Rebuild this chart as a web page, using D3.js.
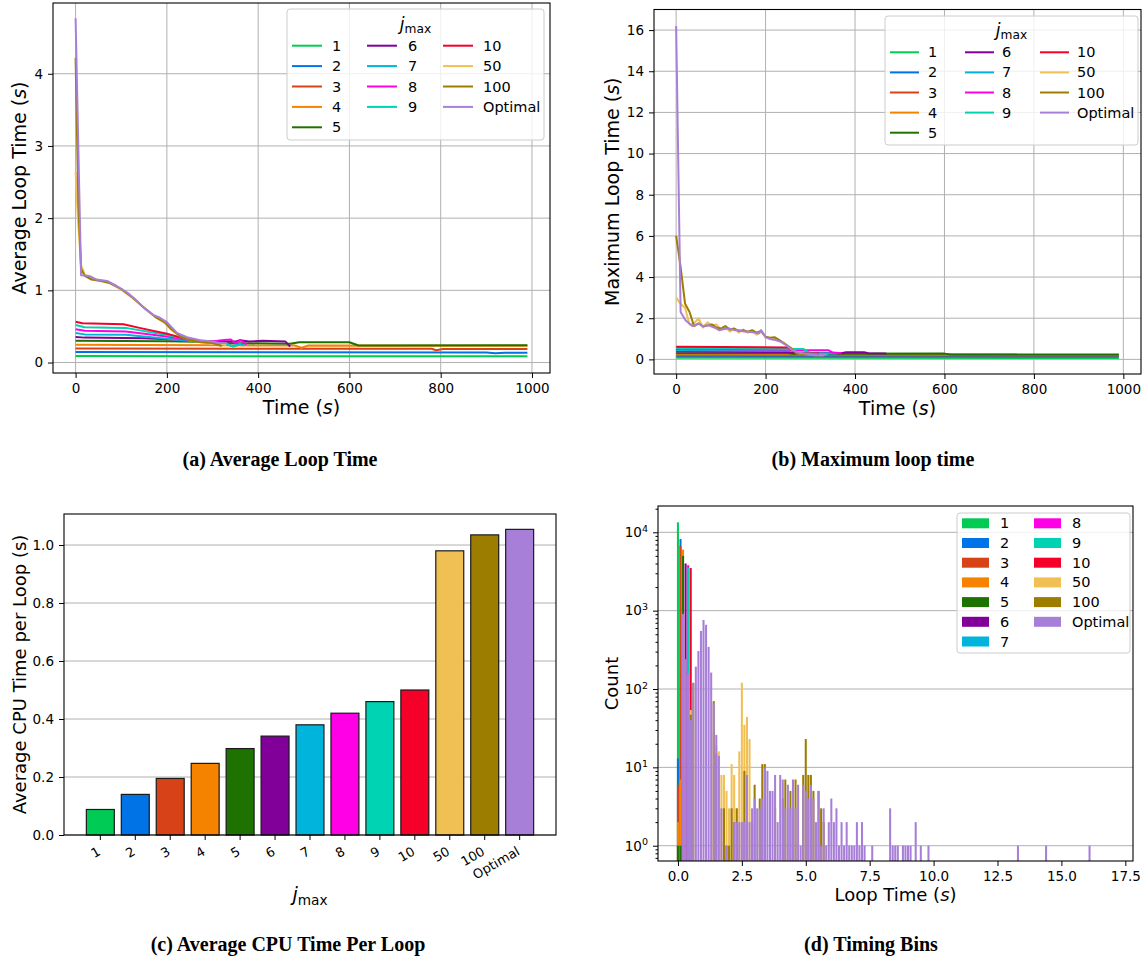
<!DOCTYPE html>
<html>
<head>
<meta charset="utf-8">
<script src="https://cdn.jsdelivr.net/npm/d3@7"></script>
<style>
  body { margin: 0; background: #fff; }
  svg { display: block; }
  text { font-family: "DejaVu Sans", sans-serif; fill: #000; }
</style>
</head>
<body>
<svg width="1148" height="964"></svg>
<script>
// ---- data ----
const series_names = ["1", "2", "3", "4", "5", "6", "7", "8", "9", "10", "50", "100", "Optimal"];
const series_colors = ["#00cc55", "#0073e6", "#d84218", "#f58300", "#1e7300", "#800099",
  "#00b4dc", "#ff00e6", "#00d2b4", "#f50028", "#f0c055", "#9c7d00", "#a87fd8"];

// (a) average loop time, [time, seconds]
const avg_1 = [[0, 0.09], [300, 0.088], [990, 0.088]];
const avg_2 = [[0, 0.145], [400, 0.142], [900, 0.138], [920, 0.13], [940, 0.136], [990, 0.135]];
const avg_3 = [[0, 0.195], [500, 0.19], [780, 0.19], [790, 0.17], [805, 0.188], [990, 0.188]];
const avg_4 = [[0, 0.245], [300, 0.24], [480, 0.235], [495, 0.205], [510, 0.235], [990, 0.232]];
const avg_5 = [[0, 0.3], [200, 0.295], [300, 0.285], [330, 0.27], [470, 0.26], [490, 0.28], [600, 0.28], [620, 0.235], [990, 0.24]];
const avg_6 = [[0, 0.355], [20, 0.345], [150, 0.338], [230, 0.315], [300, 0.29], [350, 0.29], [360, 0.31], [380, 0.29], [410, 0.3], [460, 0.29], [470, 0.22]];
const avg_7 = [[0, 0.41], [20, 0.39], [110, 0.385], [200, 0.33], [250, 0.3], [300, 0.28], [330, 0.25], [345, 0.23], [360, 0.26], [370, 0.24]];
const avg_8 = [[0, 0.46], [20, 0.44], [110, 0.43], [200, 0.36], [260, 0.3], [300, 0.29], [320, 0.31], [340, 0.32], [350, 0.27], [362, 0.31], [375, 0.25]];
const avg_9 = [[0, 0.52], [20, 0.49], [110, 0.48], [200, 0.38], [250, 0.32], [300, 0.275], [330, 0.26], [345, 0.22], [355, 0.24]];
const avg_10 = [[0, 0.565], [15, 0.545], [105, 0.53], [140, 0.48], [200, 0.4], [240, 0.33], [280, 0.29], [320, 0.27]];
const avg_50 = [[0, 2.64], [5, 2.0], [12, 1.35], [20, 1.22], [35, 1.16], [55, 1.14], [75, 1.1], [100, 1.01], [125, 0.89], [150, 0.76], [175, 0.63], [195, 0.55], [210, 0.45], [230, 0.36], [250, 0.31], [275, 0.28], [300, 0.26], [315, 0.27], [330, 0.24]];
const avg_100 = [[0, 4.22], [6, 2.2], [12, 1.3], [20, 1.2], [35, 1.15], [55, 1.13], [75, 1.1], [100, 1.02], [125, 0.9], [150, 0.76], [175, 0.63], [195, 0.56], [210, 0.46], [230, 0.36], [250, 0.31], [275, 0.28], [300, 0.27], [320, 0.23]];
const avg_opt = [[0, 4.77], [12, 1.21], [30, 1.2], [45, 1.15], [69, 1.13], [90, 1.06], [113, 0.97], [130, 0.88], [149, 0.76], [170, 0.66], [185, 0.62], [200, 0.56], [222, 0.41], [244, 0.35], [273, 0.31], [300, 0.29], [315, 0.27], [331, 0.27]];

// (b) maximum loop time, [time, seconds]
const max_1 = [[0, 0.08], [990, 0.07]];
const max_2 = [[0, 0.15], [990, 0.14]];
const max_3 = [[0, 0.2], [990, 0.19]];
const max_4 = [[0, 0.25], [990, 0.24]];
const max_5 = [[0, 0.3], [250, 0.3], [260, 0.27], [600, 0.28], [615, 0.24], [990, 0.24]];
const max_6 = [[0, 0.38], [250, 0.36], [270, 0.3], [370, 0.3], [380, 0.35], [420, 0.35], [430, 0.3], [470, 0.28]];
const max_7 = [[0, 0.44], [250, 0.42], [270, 0.45], [290, 0.42], [300, 0.3], [360, 0.28]];
const max_8 = [[0, 0.5], [250, 0.48], [270, 0.45], [340, 0.45], [350, 0.33], [370, 0.3]];
const max_9 = [[0, 0.55], [250, 0.52], [265, 0.5], [285, 0.5], [300, 0.3], [340, 0.25]];
const max_10 = [[0, 0.62], [100, 0.6], [250, 0.58], [270, 0.3], [320, 0.28]];
const max_50 = [[0, 3.0], [10, 2.7], [20, 2.5], [30, 1.7], [40, 1.75], [50, 2.0], [60, 1.55], [70, 1.8], [80, 1.65], [90, 1.7], [100, 1.45], [110, 1.6], [120, 1.35], [130, 1.5], [140, 1.3], [150, 1.45], [160, 1.3], [170, 1.4], [180, 1.2], [190, 1.35], [200, 1.1], [210, 1.0], [220, 1.05], [230, 0.9], [240, 0.8], [250, 0.65], [260, 0.5], [270, 0.3], [290, 0.25], [310, 0.2], [330, 0.2]];
const max_100 = [[0, 6.0], [10, 4.5], [20, 2.7], [30, 2.3], [40, 1.62], [50, 1.75], [60, 1.6], [70, 1.65], [80, 1.7], [90, 1.55], [100, 1.5], [110, 1.62], [120, 1.45], [130, 1.5], [140, 1.38], [150, 1.42], [160, 1.35], [170, 1.42], [180, 1.3], [190, 1.38], [200, 1.1], [210, 1.05], [220, 1.08], [230, 0.95], [240, 0.8], [250, 0.65], [260, 0.5], [270, 0.3], [290, 0.25], [320, 0.22]];
const max_opt = [[0, 16.2], [10, 2.3], [21, 1.9], [36, 1.62], [51, 1.74], [60, 1.62], [73, 1.66], [85, 1.55], [96, 1.42], [108, 1.48], [118, 1.5], [130, 1.42], [140, 1.42], [152, 1.35], [163, 1.34], [175, 1.3], [185, 1.26], [190, 1.42], [200, 1.07], [212, 0.98], [222, 0.94], [235, 0.85], [245, 0.7], [260, 0.45], [275, 0.32], [297, 0.26], [335, 0.21]];

// (c) average CPU time per loop
const cpu_time = [0.088, 0.14, 0.195, 0.247, 0.298, 0.341, 0.38, 0.42, 0.46, 0.5, 0.98, 1.035, 1.054];

// (d) timing bins, [bin centre (s), count]
const hist_1 = [[0.0, 13400]];
const hist_2 = [[0.0, 13], [0.1, 8200]];
const hist_3 = [[0.0, 6], [0.1, 6700]];
const hist_4 = [[0.0, 2], [0.1, 7], [0.2, 6000]];
const hist_5 = [[0.0, 1], [0.1, 1], [0.2, 5000]];
const hist_6 = [[0.3, 4000]];
const hist_7 = [[0.4, 3300]];
const hist_8 = [[0.2, 900], [0.4, 3800]];
const hist_9 = [[0.4, 3500]];
const hist_10 = [[0.5, 3500]];
const hist_50 = [[0.5, 54], [1.4, 28], [1.5, 19], [1.6, 16], [1.7, 8], [1.8, 8], [1.9, 5], [2.0, 3], [2.1, 11], [2.2, 8], [2.3, 3], [2.4, 16], [2.5, 120], [2.6, 35], [2.7, 44], [2.8, 23], [2.9, 2]];
const hist_100 = [[0.5, 47], [0.6, 120], [1.4, 70], [1.5, 15], [1.8, 3], [1.9, 1], [2.0, 1], [2.1, 3], [2.2, 2], [2.3, 3], [2.6, 9], [2.9, 2], [3.0, 6], [3.2, 4], [3.3, 11], [3.4, 11], [3.8, 3], [4.1, 4], [4.2, 7], [4.4, 5], [4.6, 7], [4.9, 8], [5.0, 23], [5.1, 8], [5.2, 8], [5.3, 5], [5.5, 5], [5.6, 3], [5.7, 2]];
const hist_opt = [[0.2, 910], [0.3, 240], [0.4, 158], [0.5, 40], [0.6, 118], [0.7, 193], [0.8, 305], [0.9, 550], [1.0, 760], [1.1, 660], [1.2, 345], [1.3, 162], [1.4, 66], [1.5, 26], [1.6, 14], [1.7, 3], [1.9, 1], [2.2, 2], [2.3, 2], [2.4, 2], [2.5, 2], [2.6, 2], [2.7, 8], [2.8, 2], [2.9, 3], [3.0, 4], [3.1, 3], [3.2, 3], [3.3, 4], [3.4, 10], [3.5, 9], [3.6, 5], [3.7, 5], [3.8, 8], [3.9, 2], [4.0, 8], [4.1, 7], [4.2, 3], [4.3, 6], [4.4, 3], [4.5, 7], [4.6, 3], [4.7, 6], [4.8, 1], [4.9, 6], [5.0, 5], [5.1, 4], [5.2, 6], [5.3, 4], [5.4, 2], [5.5, 5], [5.6, 1], [5.7, 3], [5.8, 1], [5.9, 2], [6.0, 4], [6.1, 2], [6.2, 3], [6.3, 1], [6.4, 2], [6.5, 1], [6.6, 2], [6.7, 1], [6.8, 1], [6.9, 1], [7.0, 2], [7.1, 1], [7.2, 2], [7.3, 1], [7.6, 1], [8.3, 3], [8.4, 1], [8.5, 1], [8.6, 1], [8.8, 1], [8.9, 1], [9.0, 1], [9.1, 1], [9.3, 2], [9.5, 1], [9.8, 1], [13.3, 1], [14.4, 1], [16.1, 1]];

const avg_series = [avg_1, avg_2, avg_3, avg_4, avg_5, avg_6, avg_7, avg_8, avg_9, avg_10, avg_50, avg_100, avg_opt];
const max_series = [max_1, max_2, max_3, max_4, max_5, max_6, max_7, max_8, max_9, max_10, max_50, max_100, max_opt];
const hist_series = [hist_1, hist_2, hist_3, hist_4, hist_5, hist_6, hist_7, hist_8, hist_9, hist_10, hist_50, hist_100, hist_opt];

// ---- style ----
const tick_size = 13.5;
const label_size = 19;
const legend_size = 14.5;
const grid_color = "#b0b0b0";

let svg = d3.select("svg");

function StyleAxis(g) {
  g.select(".domain").remove();
  g.selectAll(".tick line").attr("stroke", "black").attr("stroke-width", 1);
  g.selectAll(".tick text")
    .attr("fill", "black")
    .style("font-family", '"DejaVu Sans", sans-serif')
    .style("font-size", tick_size + "px");
}

function DrawGrid(g, x, y, box, xticks, yticks) {
  if (xticks) {
    g.selectAll(null).data(xticks).enter().append("line")
      .attr("x1", d => x(d)).attr("x2", d => x(d))
      .attr("y1", box.top).attr("y2", box.bottom)
      .attr("stroke", grid_color).attr("stroke-width", 1);
  }
  if (yticks) {
    g.selectAll(null).data(yticks).enter().append("line")
      .attr("x1", box.left).attr("x2", box.right)
      .attr("y1", d => y(d)).attr("y2", d => y(d))
      .attr("stroke", grid_color).attr("stroke-width", 1);
  }
}

function DrawFrame(g, box) {
  g.append("rect")
    .attr("x", box.left).attr("y", box.top)
    .attr("width", box.right - box.left).attr("height", box.bottom - box.top)
    .attr("fill", "none").attr("stroke", "black").attr("stroke-width", 1.1);
}

function JmaxText(sel, size) {
  sel.append("tspan").style("font-style", "italic").text("j");
  sel.append("tspan").attr("dy", "0.28em").style("font-size", (size * 0.72) + "px").text("max");
}

function DrawLineLegend(g, box, title_y, cols, row_y, row_gap) {
  g.append("rect")
    .attr("x", box.left).attr("y", box.top)
    .attr("width", box.right - box.left).attr("height", box.bottom - box.top)
    .attr("rx", 3).attr("fill", "white").attr("fill-opacity", 0.8)
    .attr("stroke", "#cccccc").attr("stroke-width", 1);
  let title = g.append("text")
    .attr("x", (box.left + box.right) / 2).attr("y", title_y)
    .attr("text-anchor", "middle")
    .style("font-size", "17px");
  JmaxText(title, 17);
  const per_col = [5, 4, 4];
  let k = 0;
  per_col.forEach((n, c) => {
    for (let r = 0; r < n; r++, k++) {
      const yy = row_y + r * row_gap;
      g.append("line")
        .attr("x1", cols[c][0]).attr("x2", cols[c][1])
        .attr("y1", yy).attr("y2", yy)
        .attr("stroke", series_colors[k]).attr("stroke-width", 2);
      g.append("text")
        .attr("x", cols[c][2]).attr("y", yy + 5)
        .style("font-size", legend_size + "px")
        .text(series_names[k]);
    }
  });
}

function DrawLinePanel(box, y_domain, y_ticks, data, ylabel, legend) {
  let g = svg.append("g");
  const x = d3.scaleLinear().domain([-49.5, 1039.5]).range([box.left, box.right]);
  const y = d3.scaleLinear().domain(y_domain).range([box.bottom, box.top]);
  const x_ticks = [0, 200, 400, 600, 800, 1000];
  DrawGrid(g, x, y, box, x_ticks, y_ticks);

  const line = d3.line().x(d => x(d[0])).y(d => y(d[1]));
  data.forEach((s, i) => {
    g.append("path")
      .attr("d", line(s))
      .attr("fill", "none")
      .attr("stroke", series_colors[i])
      .attr("stroke-width", 2)
      .attr("stroke-linejoin", "round");
  });
  DrawFrame(g, box);

  g.append("g").attr("transform", `translate(0,${box.bottom})`)
    .call(d3.axisBottom(x).tickValues(x_ticks).tickSize(5).tickPadding(5).tickFormat(d3.format("d")))
    .call(StyleAxis);
  g.append("g").attr("transform", `translate(${box.left},0)`)
    .call(d3.axisLeft(y).tickValues(y_ticks).tickSize(5).tickPadding(5).tickFormat(d3.format("d")))
    .call(StyleAxis);

  // axis labels
  let xl = g.append("text")
    .attr("x", (box.left + box.right) / 2).attr("y", box.bottom + 41)
    .attr("text-anchor", "middle").style("font-size", label_size + "px");
  xl.append("tspan").text("Time (");
  xl.append("tspan").style("font-style", "italic").text("s");
  xl.append("tspan").text(")");

  let yl = g.append("text")
    .attr("transform", `translate(${ylabel.x},${(box.top + box.bottom) / 2}) rotate(-90)`)
    .attr("text-anchor", "middle").style("font-size", label_size + "px");
  yl.append("tspan").text(ylabel.text + " (");
  yl.append("tspan").style("font-style", "italic").text("s");
  yl.append("tspan").text(")");

  DrawLineLegend(g, legend.box, legend.title_y, legend.cols, legend.row_y, legend.row_gap);
}

function DrawBarPanel(box) {
  let g = svg.append("g");
  const x = d3.scaleBand().domain(series_names).range([box.left, box.right])
    .paddingInner(0.2).paddingOuter(0.64);
  const y = d3.scaleLinear().domain([0, 1.107]).range([box.bottom, box.top]);
  const y_ticks = [0, 0.2, 0.4, 0.6, 0.8, 1.0];
  DrawGrid(g, x, y, box, null, y_ticks);

  g.selectAll(null).data(cpu_time).enter().append("rect")
    .attr("x", (d, i) => x(series_names[i]))
    .attr("y", d => y(d))
    .attr("width", x.bandwidth())
    .attr("height", d => y(0) - y(d))
    .attr("fill", (d, i) => series_colors[i])
    .attr("stroke", "#1a1a1a").attr("stroke-width", 1.2);
  DrawFrame(g, box);

  let xa = g.append("g").attr("transform", `translate(0,${box.bottom})`)
    .call(d3.axisBottom(x).tickSize(5).tickPadding(4))
    .call(StyleAxis);
  xa.selectAll(".tick text")
    .attr("text-anchor", "end")
    .attr("y", 0).attr("dy", 0)
    .attr("transform", "translate(1,19) rotate(-30)")
    .style("font-size", "13px");

  g.append("g").attr("transform", `translate(${box.left},0)`)
    .call(d3.axisLeft(y).tickValues(y_ticks).tickSize(5).tickPadding(5).tickFormat(d3.format(".1f")))
    .call(StyleAxis);

  let xl = g.append("text")
    .attr("x", (box.left + box.right) / 2).attr("y", box.bottom + 66)
    .attr("text-anchor", "middle").style("font-size", label_size + "px");
  JmaxText(xl, label_size);

  g.append("text")
    .attr("transform", `translate(26,${(box.top + box.bottom) / 2}) rotate(-90)`)
    .attr("text-anchor", "middle").style("font-size", "18px")
    .text("Average CPU Time per Loop (s)");
}

function DrawHistPanel(box) {
  let g = svg.append("g");
  const x = d3.scaleLinear().domain([-0.78, 17.8]).range([box.left, box.right]);
  const y = d3.scaleLog().domain([0.638, 21660]).range([box.bottom, box.top]);
  const x_ticks = [0, 2.5, 5, 7.5, 10, 12.5, 15, 17.5];
  const y_ticks = [1, 10, 100, 1000, 10000];
  DrawGrid(g, x, y, box, null, y_ticks);

  const bar_w = 0.08;
  hist_series.forEach((s, i) => {
    g.selectAll(null).data(s).enter().append("rect")
      .attr("x", d => x(d[0] - bar_w / 2))
      .attr("y", d => y(d[1]))
      .attr("width", x(bar_w) - x(0))
      .attr("height", d => box.bottom - y(d[1]))
      .attr("fill", series_colors[i]);
  });
  DrawFrame(g, box);

  g.append("g").attr("transform", `translate(0,${box.bottom})`)
    .call(d3.axisBottom(x).tickValues(x_ticks).tickSize(5).tickPadding(5).tickFormat(d3.format(".1f")))
    .call(StyleAxis);

  let minor = [];
  [0.1, 1, 10, 100, 1000, 10000].forEach(p => {
    for (let m = 2; m <= 9; m++) {
      const v = p * m;
      if (v > 0.638 && v < 21660) minor.push(v);
    }
  });
  g.append("g").attr("transform", `translate(${box.left},0)`)
    .call(d3.axisLeft(y).tickValues(minor).tickSize(2.5).tickFormat(""))
    .call(StyleAxis);
  let ya = g.append("g").attr("transform", `translate(${box.left},0)`)
    .call(d3.axisLeft(y).tickValues(y_ticks).tickSize(5).tickPadding(5).tickFormat(""))
    .call(StyleAxis);
  ya.selectAll(".tick text").each(function (d) {
    let t = d3.select(this);
    t.text("10");
    t.append("tspan").attr("dy", "-0.55em").style("font-size", "9.5px").text(Math.round(Math.log10(d)));
  });

  let xl = g.append("text")
    .attr("x", (box.left + box.right) / 2).attr("y", box.bottom + 40)
    .attr("text-anchor", "middle").style("font-size", "18px");
  xl.append("tspan").text("Loop Time (");
  xl.append("tspan").style("font-style", "italic").text("s");
  xl.append("tspan").text(")");

  g.append("text")
    .attr("transform", `translate(618,${(box.top + box.bottom) / 2}) rotate(-90)`)
    .attr("text-anchor", "middle").style("font-size", "18px")
    .text("Count");

  // legend with patches, two columns
  const lb = { left: 957, right: 1130, top: 513, bottom: 653 };
  g.append("rect")
    .attr("x", lb.left).attr("y", lb.top)
    .attr("width", lb.right - lb.left).attr("height", lb.bottom - lb.top)
    .attr("rx", 3).attr("fill", "white").attr("fill-opacity", 0.8)
    .attr("stroke", "#cccccc").attr("stroke-width", 1);
  const cols = [[962, 1000], [1034, 1072]];
  series_names.forEach((name, k) => {
    const c = k < 7 ? 0 : 1;
    const r = k < 7 ? k : k - 7;
    const yy = 523.3 + r * 19.7;
    g.append("rect")
      .attr("x", cols[c][0]).attr("y", yy - 5)
      .attr("width", 27).attr("height", 10)
      .attr("fill", series_colors[k]);
    g.append("text")
      .attr("x", cols[c][1]).attr("y", yy + 5)
      .style("font-size", legend_size + "px")
      .text(name);
  });
}

function Caption(x, y, txt) {
  svg.append("text")
    .attr("x", x).attr("y", y)
    .attr("text-anchor", "middle")
    .style("font-family", '"Liberation Serif", "Times New Roman", serif')
    .style("font-weight", "bold")
    .style("font-size", "20px")
    .text(txt);
}

DrawLinePanel({ left: 53, right: 550, top: 3, bottom: 373 }, [-0.145, 4.98], [0, 1, 2, 3, 4],
  avg_series, { x: 26, text: "Average Loop Time" },
  { box: { left: 287, right: 544, top: 9, bottom: 140 }, title_y: 30,
    cols: [[292, 322, 332], [367, 397, 408], [443, 473, 483]], row_y: 45.7, row_gap: 20.4 });

DrawLinePanel({ left: 654, right: 1141, top: 9.5, bottom: 374 }, [-0.71, 17.0], [0, 2, 4, 6, 8, 10, 12, 14, 16],
  max_series, { x: 619, text: "Maximum Loop Time" },
  { box: { left: 885, right: 1138, top: 16, bottom: 145 }, title_y: 36,
    cols: [[890, 919, 928], [965, 994, 1002], [1040, 1069, 1077]], row_y: 52.3, row_gap: 20.1 });

DrawBarPanel({ left: 64, right: 556, top: 514, bottom: 835 });
DrawHistPanel({ left: 658, right: 1133, top: 506, bottom: 861 });

Caption(280, 466, "(a) Average Loop Time");
Caption(873, 466, "(b) Maximum loop time");
Caption(288, 951, "(c) Average CPU Time Per Loop");
Caption(871, 951, "(d) Timing Bins");
</script>
</body>
</html>
